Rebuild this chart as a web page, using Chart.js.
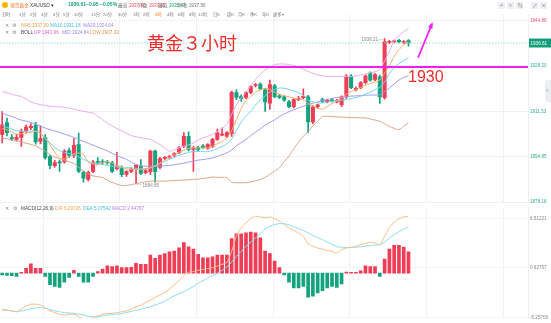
<!DOCTYPE html>
<html>
<head>
<meta charset="utf-8">
<script src="https://cdn.jsdelivr.net/npm/chart.js@4.4.1/dist/chart.umd.min.js"></script>
<style>
  body { margin: 0; background: #fff; width: 551px; height: 323px; overflow: hidden; position: relative;
         font-family: "Liberation Sans", "Noto Sans CJK SC", sans-serif; }
  canvas { position: absolute; left: 0; }
  #main { top: 0; }
  #macd { top: 203px; }
  /* 小字: 放大五倍再缩到 0.2, 避开浏览器最小字号 */
  .t { position: absolute; white-space: nowrap; line-height: 1; font-size: 23.5px; color: #777;
       transform: scale(0.2); transform-origin: 0 0; }
  .tab { font-size: 21.5px; }
  .b { font-weight: bold; font-size: 25px; }
  .big { position: absolute; white-space: nowrap; line-height: 1; color: #ee2b2b; }
  .ic { position: absolute; width: 7px; height: 7px; top: 2px; background: #eceef2; border-radius: 1px; }
  .ic span { position: absolute; left: 1.6px; top: 1.2px; font-size: 22px; line-height: 1; color: #666;
             transform: scale(0.2); transform-origin: 0 0; }
</style>
</head>
<body>
<canvas id="main" width="551" height="207"></canvas>
<canvas id="macd" width="551" height="120"></canvas>

<!-- 标题行 -->
<div style="position:absolute;left:2px;top:2px;width:6px;height:6px;border-radius:50%;background:#f5b400;"></div>
<div class="t" style="left:10px;top:2.6px;color:#f0742a;">现货黄金</div>
<div class="t" style="left:30px;top:2.6px;color:#333;">XAUUSD ▾</div>
<div class="t b" style="left:68px;top:2.3px;color:#13a37c;">1936.61</div>
<div class="t b" style="left:86px;top:2.3px;color:#13a37c;">−0.95</div>
<div class="t b" style="left:100px;top:2.3px;color:#13a37c;">−0.05%</div>
<div class="t" style="left:118px;top:2.6px;">最高 <span style="color:#ef4b5e">1937.86</span></div>
<div class="t" style="left:138px;top:2.6px;">开盘 <span style="color:#ef4b5e">1937.82</span></div>
<div class="t" style="left:158px;top:2.6px;">最低 <span style="color:#13a37c">1935.47</span></div>
<div class="t" style="left:178px;top:2.6px;">昨收 <span style="color:#777">1937.56</span></div>

<div class="ic" style="left:498px;"><span>↶</span></div>
<div class="ic" style="left:507px;"><span>✎</span></div>
<div class="ic" style="left:516px;"><span>⇆</span></div>
<div class="ic" style="left:531px;"><span>⤢</span></div>
<div class="ic" style="left:540px;"><span>✕</span></div>

<!-- 周期行 -->
<div class="t tab" style="left:2px;top:12.6px;">分时</div>
<div class="t tab" style="left:19px;top:12.6px;">1分</div>
<div class="t tab" style="left:30px;top:12.6px;">2分</div>
<div class="t tab" style="left:41px;top:12.6px;">3分</div>
<div class="t tab" style="left:53px;top:12.6px;">4分</div>
<div class="t tab" style="left:63px;top:12.6px;">5分</div>
<div class="t tab" style="left:74px;top:12.6px;">10分</div>
<div class="t tab" style="left:91px;top:12.6px;">15分</div>
<div class="t tab" style="left:103px;top:12.6px;">20分</div>
<div class="t tab" style="left:118px;top:12.6px;">30分</div>
<div class="t tab" style="left:133px;top:12.6px;">1时</div>
<div class="t tab" style="left:143px;top:12.6px;">2时</div>
<div class="t tab" style="left:155px;top:12.6px;color:#f47a20;">3时</div>
<div class="t tab" style="left:167px;top:12.6px;">4时</div>
<div class="t tab" style="left:178px;top:12.6px;">6时</div>
<div class="t tab" style="left:189px;top:12.6px;">8时</div>
<div class="t tab" style="left:198px;top:12.6px;">12时</div>
<div class="t tab" style="left:213px;top:12.6px;">日K</div>
<div class="t tab" style="left:227px;top:12.6px;">周K</div>
<div class="t tab" style="left:238px;top:12.6px;">月K</div>
<div class="t tab" style="left:250px;top:12.6px;">季K</div>
<div class="t tab" style="left:262px;top:12.6px;">年K</div>
<div class="t tab" style="left:273px;top:12.6px;">更多▾</div>

<!-- 指标图例 -->
<div class="t" style="left:5px;top:22.7px;color:#888;">✕</div>
<div class="t" style="left:12px;top:22.7px;color:#888;">⚙</div>
<div class="t" style="left:21px;top:22.7px;color:#f5a04a;">MA5:1937.00</div>
<div class="t" style="left:50px;top:22.7px;color:#3fbfe0;">MA10:1931.18</div>
<div class="t" style="left:83px;top:22.7px;color:#9a86f0;">MA20:1924.64</div>

<div class="t" style="left:5px;top:30.2px;color:#888;">✕</div>
<div class="t" style="left:12px;top:30.2px;color:#888;">⚙</div>
<div class="t" style="left:21px;top:30.2px;color:#444;">BOLL</div>
<div class="t" style="left:34px;top:30.2px;color:#e060d8;">UP:1941.96</div>
<div class="t" style="left:62px;top:30.2px;color:#9a86f0;">MID:1924.64</div>
<div class="t" style="left:90px;top:30.2px;color:#e0904a;">LOW:1907.33</div>

<div class="t" style="left:5px;top:206px;color:#888;">✕</div>
<div class="t" style="left:13px;top:206px;color:#888;">⚙</div>
<div class="t" style="left:21px;top:206px;color:#444;">MACD(12,26,9)</div>
<div class="t" style="left:55px;top:206px;color:#f5a04a;">DIF:6.29726</div>
<div class="t" style="left:83px;top:206px;color:#3fbfe0;">DEA:5.07542</div>
<div class="t" style="left:112px;top:206px;color:#b07de0;">MACD:2.44767</div>

<!-- 手写标注 -->
<div class="big" style="left:147px;top:33px;font-size:18px;font-family:'Noto Sans CJK SC';">黄金３小时</div>
<div class="big" style="left:408px;top:69px;font-size:16px;">1930</div>

<div style="position:absolute;left:545px;top:80px;width:9px;height:22px;border-radius:3px;background:#eceef2;color:#999;font-size:7px;line-height:22px;padding-left:1px;">›</div>

<script>
// 3小时K线 (XAUUSD)
const opens = [
  1903.0,1907.4,1901.9,1901.2,1901.9,1904.3,1905.5,1906.5,1900.5,1901.9,
  1894.9,1891.6,1893.0,1892.9,1897.1,1895.3,1899.3,1889.1,1886.5,1889.5,
  1893.2,1893.0,1893.0,1892.7,1890.5,1890.9,1888.4,1889.5,1890.2,1891.4,
  1889.0,1889.4,1896.9,1890.9,1894.2,1894.6,1895.4,1896.4,1898.6,1902.3,
  1897.5,1898.2,1898.8,1897.9,1898.6,1901.2,1902.8,1902.3,1903.3,1918.4,
  1917.0,1916.6,1918.4,1921.0,1921.5,1919.4,1914.5,1920.9,1917.2,1916.8,
  1915.0,1913.2,1915.8,1916.5,1916.8,1907.6,1913.2,1915.8,1915.0,1915.6,
  1915.0,1914.0,1916.8,1924.5,1919.5,1920.2,1922.0,1925.6,1923.2,1924.2,
  1916.5,1936.8,1937.0,1937.6,1936.8,1937.5
];
const highs = [
  1911.4,1909.0,1903.0,1903.2,1905.0,1906.5,1907.0,1907.5,1906.2,1903.0,
  1895.5,1893.5,1893.6,1897.5,1898.0,1901.5,1903.5,1889.6,1889.6,1893.5,
  1894.5,1893.8,1893.5,1893.2,1896.5,1891.5,1889.8,1890.8,1892.0,1893.8,
  1890.3,1897.3,1897.3,1894.6,1895.0,1895.4,1896.4,1898.6,1903.7,1904.0,
  1898.6,1898.8,1899.3,1899.7,1901.6,1905.0,1905.5,1904.1,1919.0,1919.5,
  1917.6,1918.8,1921.0,1921.8,1922.0,1920.0,1923.0,1921.4,1917.8,1917.3,
  1915.6,1916.2,1917.0,1919.8,1917.4,1913.6,1914.2,1916.4,1916.0,1916.2,
  1915.9,1917.2,1925.0,1925.0,1920.5,1922.4,1925.0,1926.0,1925.4,1924.8,
  1938.21,1937.6,1937.7,1938.0,1937.5,1937.86
];
const lows = [
  1900.0,1902.5,1900.8,1900.6,1898.6,1903.5,1904.8,1899.5,1899.6,1894.0,
  1890.5,1891.0,1889.5,1892.5,1894.5,1894.5,1889.0,1885.5,1886.0,1889.0,
  1892.2,1892.0,1892.0,1889.0,1890.0,1887.5,1887.6,1889.0,1884.85,1888.3,
  1888.5,1888.3,1885.5,1890.4,1893.8,1894.2,1895.0,1896.0,1898.2,1897.0,
  1889.5,1897.0,1897.8,1897.5,1898.2,1900.8,1902.5,1901.9,1902.3,1915.8,
  1915.2,1916.2,1918.0,1920.5,1919.3,1911.5,1912.2,1916.5,1916.2,1915.2,
  1912.8,1912.8,1915.4,1916.1,1903.7,1907.0,1912.6,1914.8,1914.6,1915.0,
  1914.6,1913.2,1916.3,1919.8,1919.0,1919.8,1921.6,1922.6,1922.8,1914.4,
  1916.0,1936.4,1936.6,1936.6,1936.4,1935.47
];
const closes = [
  1906.6,1903.7,1901.4,1902.0,1904.3,1905.7,1906.0,1900.3,1901.5,1894.5,
  1891.7,1892.7,1892.6,1896.9,1895.3,1899.0,1889.5,1887.0,1889.1,1892.9,
  1892.8,1892.7,1892.6,1889.5,1891.5,1888.3,1889.4,1890.3,1891.7,1888.7,
  1889.8,1896.9,1889.4,1894.2,1894.6,1895.0,1896.0,1898.2,1902.3,1897.5,
  1898.0,1897.5,1898.2,1899.3,1901.2,1903.7,1903.2,1903.7,1918.5,1916.6,
  1916.2,1918.4,1920.6,1921.3,1919.8,1915.0,1921.3,1916.9,1916.6,1915.6,
  1913.2,1915.8,1916.3,1917.0,1907.6,1913.2,1913.9,1915.2,1915.6,1915.4,
  1915.6,1916.8,1924.5,1920.2,1920.0,1922.0,1924.5,1923.0,1925.0,1916.8,
  1937.0,1937.2,1937.4,1937.0,1937.1,1936.61
];

// 均线 / 布林带
const ma5 = [
  1905.2,1904.8,1903.9,1903.0,1903.3,1903.6,1903.9,1904.2,1903.4,1901.5,
  1899.3,1896.5,1894.3,1894.0,1894.6,1896.0,1896.2,1895.7,1892.8,1892.2,
  1892.0,1892.6,1893.0,1892.5,1891.6,1891.0,1890.4,1890.2,1890.2,1890.3,
  1890.5,1890.8,1891.5,1892.6,1893.6,1894.6,1895.6,1896.5,1897.2,1897.9,
  1898.1,1898.1,1898.1,1898.1,1898.7,1899.6,1900.5,1901.7,1904.5,1908.5,
  1912.5,1915.5,1917.0,1918.6,1919.4,1920.0,1919.6,1918.5,1917.8,1917.3,
  1916.8,1916.4,1916.1,1915.8,1914.5,1913.4,1912.6,1912.3,1913.3,1914.4,
  1915.3,1916.4,1917.8,1918.8,1919.5,1920.3,1921.1,1921.7,1922.3,1923.0,
  1925.5,1928.3,1931.7,1934.2,1935.9,1937.0
];
const ma10 = [
  1906.3,1905.6,1905.0,1904.4,1904.2,1904.2,1904.2,1904.1,1903.5,1901.8,
  1899.9,1898.3,1897.1,1896.5,1896.0,1895.6,1894.8,1893.9,1893.2,1892.6,
  1892.3,1892.0,1891.7,1891.4,1891.1,1890.8,1890.8,1890.8,1890.6,1890.3,
  1890.4,1890.7,1891.4,1892.3,1893.1,1893.9,1894.6,1895.4,1895.9,1896.4,
  1896.8,1896.8,1896.7,1896.7,1897.2,1897.8,1898.6,1899.6,1901.3,1904.5,
  1907.6,1909.7,1911.5,1913.8,1915.7,1917.2,1918.6,1919.6,1920.1,1920.0,
  1919.6,1919.0,1918.4,1917.3,1915.6,1915.0,1914.6,1914.6,1914.9,1915.2,
  1915.4,1915.6,1915.8,1916.2,1916.6,1917.0,1917.8,1918.6,1919.5,1920.3,
  1922.3,1925.4,1927.6,1929.0,1930.2,1931.2
];
const bollMid = [
  1910.9,1910.2,1909.6,1908.9,1908.3,1907.9,1907.4,1906.8,1906.1,1905.4,
  1904.8,1904.3,1903.8,1903.2,1902.6,1901.9,1901.2,1900.5,1899.8,1899.1,
  1898.4,1897.7,1897.0,1896.1,1895.3,1894.6,1893.9,1892.8,1892.1,1891.5,
  1891.4,1891.4,1891.4,1891.4,1891.5,1891.7,1891.9,1892.2,1892.5,1892.9,
  1893.2,1893.6,1893.8,1894.1,1894.4,1895.0,1895.6,1896.3,1897.3,1898.9,
  1900.0,1901.2,1902.6,1903.9,1905.1,1906.4,1907.4,1908.4,1909.6,1910.5,
  1911.4,1912.1,1912.8,1913.4,1914.0,1914.5,1915.0,1915.4,1915.8,1916.3,
  1916.6,1916.8,1917.0,1917.1,1917.2,1917.3,1917.4,1917.5,1917.5,1917.6,
  1918.7,1920.1,1921.6,1923.0,1924.0,1924.6
];
const bollUp = [
  1918.8,1918.3,1917.8,1917.3,1917.0,1916.0,1915.0,1914.4,1914.0,1913.7,
  1913.4,1913.3,1913.2,1913.0,1912.7,1912.3,1911.9,1911.5,1911.2,1910.9,
  1909.7,1908.5,1907.1,1906.2,1905.2,1904.4,1903.5,1902.6,1902.2,1901.8,
  1901.5,1901.2,1900.3,1899.3,1898.1,1896.9,1897.4,1898.1,1898.7,1899.2,
  1899.9,1901.0,1901.7,1902.4,1903.0,1904.0,1905.3,1906.7,1910.5,1914.0,
  1916.4,1918.6,1920.8,1923.2,1925.0,1926.8,1927.7,1928.7,1928.9,1928.9,
  1928.7,1928.3,1927.8,1927.0,1926.2,1925.5,1924.9,1924.6,1924.3,1924.3,
  1924.3,1924.3,1924.3,1924.3,1924.5,1924.8,1925.2,1925.6,1926.1,1926.8,
  1930.0,1933.5,1937.5,1939.3,1940.8,1942.0
];
const bollLow = [
  1901.8,1901.4,1901.0,1900.7,1900.3,1899.8,1899.4,1898.8,1897.9,1896.9,
  1895.6,1894.7,1894.2,1893.6,1893.0,1892.4,1891.0,1889.6,1888.7,1887.8,
  1887.5,1887.2,1886.3,1885.4,1884.8,1884.2,1884.3,1884.6,1885.0,1885.3,
  1885.6,1885.9,1885.9,1885.9,1885.9,1886.0,1886.1,1886.2,1886.3,1886.4,
  1886.5,1886.6,1886.9,1887.1,1887.4,1887.3,1887.3,1887.2,1885.5,1885.3,
  1885.3,1885.3,1885.6,1886.0,1886.5,1887.3,1888.4,1889.6,1890.8,1893.0,
  1895.1,1897.8,1900.2,1902.4,1904.0,1906.2,1907.9,1909.6,1909.7,1909.6,
  1909.5,1909.4,1909.3,1909.2,1909.2,1909.1,1909.1,1908.7,1908.3,1907.9,
  1907.0,1906.0,1905.3,1904.8,1906.0,1907.3
];

// MACD(12,26,9)
const dif = [
  -4.3,-4.4,-4.5,-4.6,-4.3,-3.9,-3.7,-3.7,-3.8,-4.1,
  -4.5,-4.7,-4.9,-5.0,-4.9,-4.9,-5.2,-5.5,-5.6,-5.3,
  -5.1,-4.9,-4.8,-4.8,-4.7,-4.6,-4.5,-4.3,-4.0,-3.8,
  -3.5,-3.2,-2.9,-2.6,-2.3,-1.9,-1.4,-0.9,-0.3,0.1,
  0.2,0.35,0.45,0.55,0.65,0.85,1.05,1.3,2.6,4.4,
  5.4,6.0,6.5,6.8,6.7,6.6,6.7,6.5,6.2,5.8,
  5.4,5.1,4.8,4.4,3.5,3.2,3.0,2.85,2.7,2.6,
  2.4,2.8,3.0,3.1,3.2,3.4,3.55,3.7,3.6,3.4,
  4.4,5.4,6.1,6.5,6.7,6.8
];
const dea = [
  -4.4,-4.45,-4.5,-4.6,-4.5,-4.4,-4.25,-4.15,-4.1,-4.2,
  -4.35,-4.5,-4.6,-4.7,-4.75,-4.8,-4.9,-5.0,-5.15,-5.2,
  -5.2,-5.1,-5.0,-4.95,-4.9,-4.8,-4.7,-4.55,-4.45,-4.3,
  -4.15,-4.0,-3.8,-3.6,-3.35,-3.0,-2.7,-2.45,-2.2,-1.9,
  -1.6,-1.2,-0.9,-0.6,-0.3,0.0,0.35,0.75,1.3,2.0,
  2.6,3.2,3.7,4.2,4.7,5.3,5.6,5.8,5.9,5.9,
  5.75,5.55,5.3,5.1,4.8,4.5,4.25,4.0,3.7,3.45,
  3.15,3.1,3.05,3.05,3.1,3.15,3.2,3.3,3.35,3.4,
  3.7,4.2,4.6,4.95,5.25,5.5
];
const macdHist = [
  -0.2,-0.27,-0.3,-0.4,0.1,0.59,1.1,0.59,0.59,-0.4,
  -1.37,-1.57,-1.69,-1.06,-0.51,0.35,-0.4,-1.06,-1.06,-0.4,
  0.2,0.5,0.86,0.78,0.86,0.67,0.67,0.7,1.18,1.06,
  1.06,2.16,1.76,2.16,2.35,2.55,2.63,3.02,3.65,3.14,
  2.86,2.24,1.84,1.84,1.96,2.16,2.16,2.16,4.12,4.7,
  4.7,4.82,4.9,4.82,4.2,2.63,2.35,1.45,0.67,-0.2,
  -1.06,-1.76,-1.76,-1.57,-2.86,-2.75,-2.35,-2.08,-1.76,-1.57,
  -1.69,-1.29,0.12,0.1,0.1,0.27,0.86,0.78,0.78,-0.4,
  1.69,2.86,3.33,3.33,3.1,2.55
];

// 坐标轴刻度
const priceTicks = [1878.18, 1894.85, 1911.53, 1928.20, 1944.88];
const macdTicks = [-5.25706, 0.62757, 6.51221];
const gridCols = [8.6, 24.64, 40.69, 56.72, 72.76, 88.8, 104.83];
const levelLine = 1927.8;   // 手画的 1930 线
const lastPrice = 1936.61;

const UP = '#ef3d55', DOWN = '#14a37e';
const pts = arr => arr.map((v, i) => ({ x: i, y: v }));
const candleColors = closes.map((c, i) => c >= opens[i] ? UP : DOWN);

Chart.defaults.font.family = '"Liberation Sans", Arial, sans-serif';
Chart.defaults.animation = false;

function xAxis() {
    return {
        type: 'linear', min: -0.46, max: 110, offset: false,
        afterBuildTicks: s => { s.ticks = gridCols.map(v => ({ value: v })); },
        ticks: { display: false },
        grid: { color: '#f0f1f4', drawTicks: false, offset: false },
        border: { display: false }
    };
}

function lineSet(data, color) {
    return { type: 'line', data: pts(data), borderColor: color, borderWidth: 1,
             pointRadius: 0, tension: 0.25, order: 0 };
}

// 标注: 现价线、1930线、最高最低、箭头
const marks = {
    id: 'marks',
    afterDatasetsDraw(chart) {
        const { ctx, chartArea: a, scales: { x, y } } = chart;
        ctx.save();
        const py = y.getPixelForValue(lastPrice);
        ctx.setLineDash([1.5, 1.5]);
        ctx.strokeStyle = '#82d2c2';
        ctx.lineWidth = 0.8;
        ctx.beginPath(); ctx.moveTo(a.left, py); ctx.lineTo(a.right, py); ctx.stroke();

        // 最高 / 最低
        const hi = Math.max(...highs), lo = Math.min(...lows);
        const hiX = x.getPixelForValue(highs.indexOf(hi)), hiY = y.getPixelForValue(hi);
        const loX = x.getPixelForValue(lows.indexOf(lo)), loY = y.getPixelForValue(lo);
        ctx.strokeStyle = '#aaa';
        ctx.beginPath(); ctx.moveTo(hiX - 2, hiY + 1); ctx.lineTo(hiX - 6, hiY + 1); ctx.stroke();
        ctx.beginPath(); ctx.moveTo(loX + 1, loY); ctx.lineTo(loX + 6, loY + 1); ctx.stroke();
        ctx.setLineDash([]);
        ctx.fillStyle = '#888';
        ctx.font = '4.6px "Liberation Sans"';
        ctx.textBaseline = 'middle';
        ctx.textAlign = 'right';
        ctx.fillText(hi.toFixed(2), hiX - 6.5, hiY + 1);
        ctx.textAlign = 'left';
        ctx.fillText(lo.toFixed(2), loX + 6.5, loY + 2);

        // 1930 水平线
        const ly = y.getPixelForValue(levelLine);
        ctx.strokeStyle = '#f020f0';
        ctx.lineWidth = 2;
        ctx.beginPath(); ctx.moveTo(a.left, ly); ctx.lineTo(a.right, ly); ctx.stroke();

        // 箭头
        const x0 = x.getPixelForValue(87.0), y0 = y.getPixelForValue(1931.2);
        const x1 = x.getPixelForValue(89.9), y1 = y.getPixelForValue(1943.6);
        ctx.lineWidth = 1.8;
        ctx.beginPath(); ctx.moveTo(x0, y0); ctx.lineTo(x1, y1); ctx.stroke();
        const ang = Math.atan2(y1 - y0, x1 - x0);
        ctx.fillStyle = '#f020f0';
        ctx.beginPath();
        ctx.moveTo(x1 + 2 * Math.cos(ang), y1 + 2 * Math.sin(ang));
        ctx.lineTo(x1 - 5 * Math.cos(ang - 0.5), y1 - 5 * Math.sin(ang - 0.5));
        ctx.lineTo(x1 - 5 * Math.cos(ang + 0.5), y1 - 5 * Math.sin(ang + 0.5));
        ctx.closePath(); ctx.fill();

        // 现价标签
        ctx.fillStyle = '#139e7a';
        ctx.fillRect(a.right + 1, py - 4.5, chart.width - a.right - 1, 9);
        ctx.fillStyle = '#fff';
        ctx.font = '4.6px "Liberation Sans"';
        ctx.textAlign = 'left';
        ctx.fillText(lastPrice.toFixed(2), a.right + 2.5, py + 0.3);
        ctx.restore();
    }
};

new Chart(document.getElementById('main'), {
    type: 'bar',
    data: {
        datasets: [
            lineSet(ma5, '#f8ad6a'),
            lineSet(ma10, '#72d3ee'),
            lineSet(bollMid, '#9c9cf0'),
            lineSet(bollUp, '#eeaaea'),
            lineSet(bollLow, '#d9a589'),
            {
                data: opens.map((o, i) => ({ x: i, y: [o, closes[i]] })),
                backgroundColor: candleColors, barThickness: 3.4, minBarLength: 1,
                grouped: false, order: 1
            },
            {
                data: lows.map((l, i) => ({ x: i, y: [l, highs[i]] })),
                backgroundColor: candleColors, barThickness: 1,
                grouped: false, order: 2
            }
        ]
    },
    options: {
        responsive: false,
        events: [],
        layout: { padding: { top: 14, bottom: 4, left: 0, right: 0 } },
        plugins: { legend: { display: false }, tooltip: { enabled: false } },
        scales: {
            x: xAxis(),
            y: {
                position: 'right', min: 1878.14, max: 1947.26,
                afterBuildTicks: s => { s.ticks = priceTicks.map(v => ({ value: v })); },
                afterFit: s => { s.width = 23; },
                ticks: {
                    padding: 2, font: { size: 4.6 },
                    color: c => c.tick.value > 1940 ? '#f0506a' : '#2fae8a',
                    callback: v => v.toFixed(2)
                },
                grid: { color: '#f0f1f4', drawTicks: false },
                border: { display: true, color: '#eceef2' }
            }
        }
    },
    plugins: [marks]
});

new Chart(document.getElementById('macd'), {
    type: 'bar',
    data: {
        datasets: [
            lineSet(dif, '#fbbd86'),
            lineSet(dea, '#8adcf0'),
            {
                data: pts(macdHist),
                backgroundColor: macdHist.map(v => v >= 0 ? UP : DOWN),
                barThickness: 3, grouped: false, order: 1
            }
        ]
    },
    options: {
        responsive: false,
        events: [],
        layout: { padding: { top: 4, bottom: 4, left: 0, right: 0 } },
        plugins: { legend: { display: false }, tooltip: { enabled: false } },
        scales: {
            x: xAxis(),
            y: {
                position: 'right', min: -5.376, max: 7.8,
                afterBuildTicks: s => { s.ticks = macdTicks.map(v => ({ value: v })); },
                afterFit: s => { s.width = 23; },
                ticks: { padding: 2, font: { size: 4.6 }, color: '#888', callback: v => v.toFixed(5) },
                grid: { color: '#f4f5f7', drawTicks: false },
                border: { display: true, color: '#eceef2' }
            }
        }
    }
});
</script>
</body>
</html>
